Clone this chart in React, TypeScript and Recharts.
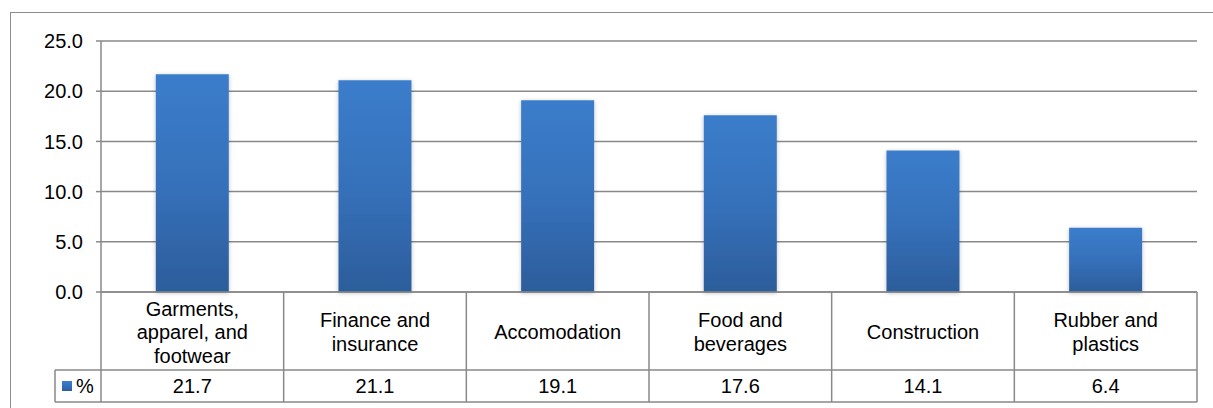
import { BarChart, Bar, XAxis, YAxis, CartesianGrid, Text } from 'recharts';

// sector shares, in percent
const sectors = [
    "Garments, apparel, and footwear",
    "Finance and insurance",
    "Accomodation",
    "Food and beverages",
    "Construction",
    "Rubber and plastics",
];
const shares = [21.7, 21.1, 19.1, 17.6, 14.1, 6.4];
const yTicks = [0, 5, 10, 15, 20, 25];
const seriesName = "%";

const data = sectors.map((name, i) => ({ name, value: shares[i] }));

const W = 1213;
const H = 408;
const PLOT_LEFT = 101;
const PLOT_RIGHT = 1197;
const PLOT_TOP = 41;
const PLOT_BOTTOM = 292;
const ROW_SPLIT = 370;   // between category row and value row
const TABLE_BOTTOM = 402;
const TABLE_LEFT = 55;
const COL_W = (PLOT_RIGHT - PLOT_LEFT) / sectors.length;
const FONT = "'Liberation Sans', Arial, sans-serif";
const FONT_SIZE = 20;
const LINE = "#898989";

// the x axis is drawn as an Excel-style data table: category row + value row
function TableTick(props: any) {
    const { x, payload, index } = props;
    const right = x + COL_W / 2;
    const valueY = (ROW_SPLIT + TABLE_BOTTOM) / 2;
    return (
        <g>
            <Text
                x={x}
                y={(PLOT_BOTTOM + ROW_SPLIT) / 2 + 1}
                width={125}
                textAnchor="middle"
                verticalAnchor="middle"
                lineHeight="1.17em"
                fill="#000"
                style={{ fontSize: FONT_SIZE, fontFamily: FONT }}
            >
                {payload.value}
            </Text>
            <text
                x={x}
                y={valueY}
                dy="0.36em"
                textAnchor="middle"
                fill="#000"
                style={{ fontSize: FONT_SIZE, fontFamily: FONT }}
            >
                {data[index].value.toFixed(1)}
            </text>
            <line x1={right} x2={right} y1={PLOT_BOTTOM} y2={TABLE_BOTTOM} stroke={LINE} strokeWidth={1.5} />
            {index === 0 && (
                <g>
                    <line x1={PLOT_LEFT} x2={PLOT_LEFT} y1={PLOT_BOTTOM} y2={TABLE_BOTTOM} stroke={LINE} strokeWidth={1.5} />
                    <line x1={TABLE_LEFT} x2={PLOT_RIGHT} y1={ROW_SPLIT} y2={ROW_SPLIT} stroke={LINE} strokeWidth={1.5} />
                    <line x1={TABLE_LEFT} x2={PLOT_RIGHT} y1={TABLE_BOTTOM} y2={TABLE_BOTTOM} stroke={LINE} strokeWidth={1.5} />
                    <line x1={TABLE_LEFT} x2={TABLE_LEFT} y1={ROW_SPLIT} y2={TABLE_BOTTOM} stroke={LINE} strokeWidth={1.5} />
                    <rect x={62} y={valueY - 5} width={10} height={10} fill="url(#barFill)" />
                    <text
                        x={76}
                        y={valueY}
                        dy="0.36em"
                        fill="#000"
                        style={{ fontSize: FONT_SIZE, fontFamily: FONT }}
                    >
                        {seriesName}
                    </text>
                </g>
            )}
        </g>
    );
}

function App() {
    return (
        <div style={{ position: "absolute", left: 0, top: 0, width: W, height: H, overflow: "hidden", background: "#fff" }}>
            <div
                style={{
                    position: "absolute",
                    left: 10,
                    top: 12,
                    width: W + 20,
                    height: H + 20,
                    border: "1.5px solid #8c8c8c",
                }}
            />
            <BarChart
                width={W}
                height={H}
                data={data}
                margin={{ top: PLOT_TOP, right: W - PLOT_RIGHT, left: 0, bottom: 6 }}
                barCategoryGap="30%"
                style={{ position: "absolute", left: 0, top: 0 }}
            >
                <defs>
                    <linearGradient id="barFill" x1="0" y1="0" x2="0" y2="1">
                        <stop offset="0%" stopColor="#3b7dcb" />
                        <stop offset="50%" stopColor="#3671bb" />
                        <stop offset="100%" stopColor="#2c5d9b" />
                    </linearGradient>
                    <filter id="barShadow" x="-20%" y="-10%" width="140%" height="120%">
                        <feDropShadow dx="0" dy="1" stdDeviation="2" floodColor="#000" floodOpacity="0.25" />
                    </filter>
                </defs>
                <CartesianGrid vertical={false} stroke={LINE} strokeWidth={1.5} />
                <XAxis
                    dataKey="name"
                    height={H - 6 - PLOT_BOTTOM}
                    axisLine={{ stroke: LINE, strokeWidth: 1.5 }}
                    tickLine={false}
                    interval={0}
                    tick={<TableTick />}
                />
                <YAxis
                    width={PLOT_LEFT}
                    domain={[0, 25]}
                    ticks={yTicks}
                    interval={0}
                    tickFormatter={(v: number) => v.toFixed(1)}
                    axisLine={{ stroke: LINE, strokeWidth: 1.5 }}
                    tickLine={{ stroke: LINE, strokeWidth: 1.5 }}
                    tickSize={5}
                    tickMargin={13}
                    tick={{ fill: "#000", fontSize: FONT_SIZE, fontFamily: FONT }}
                />
                <Bar
                    name={seriesName}
                    dataKey="value"
                    fill="url(#barFill)"
                    filter="url(#barShadow)"
                    isAnimationActive={false}
                />
            </BarChart>
        </div>
    );
}

export default App;
